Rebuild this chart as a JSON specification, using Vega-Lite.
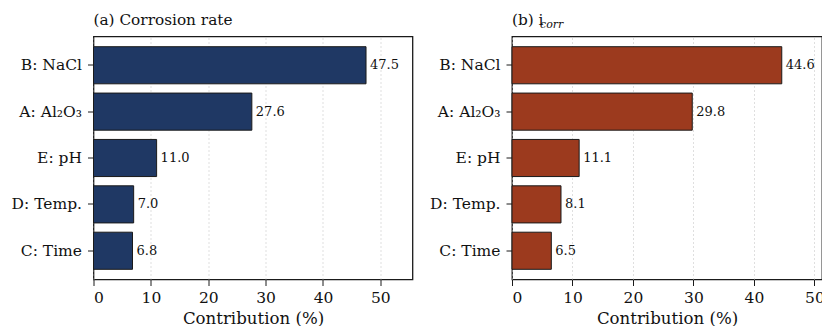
{
  "$schema": "https://vega.github.io/schema/vega-lite/v6.json",
  "padding": {"left": 9.5, "top": 12.5, "right": 0, "bottom": 0},
  "background": "white",
  "datasets": {
    "a": [
      {"factor": "B: NaCl", "contribution": 47.5},
      {"factor": "A: Al₂O₃", "contribution": 27.6},
      {"factor": "E: pH", "contribution": 11.0},
      {"factor": "D: Temp.", "contribution": 7.0},
      {"factor": "C: Time", "contribution": 6.8}
    ],
    "b": [
      {"factor": "B: NaCl", "contribution": 44.6},
      {"factor": "A: Al₂O₃", "contribution": 29.8},
      {"factor": "E: pH", "contribution": 11.1},
      {"factor": "D: Temp.", "contribution": 8.1},
      {"factor": "C: Time", "contribution": 6.5}
    ]
  },
  "spacing": 14.5,
  "hconcat": [
    {
      "width": 319,
      "height": 243,
      "data": {"name": "a"},
      "title": {"text": "(a) Corrosion rate", "subtitle": "\u200b"},
      "encoding": {
        "y": {"field": "factor", "type": "nominal", "sort": ["B: NaCl", "A: Al₂O₃", "E: pH", "D: Temp.", "C: Time"], "scale": {"paddingInner": 0.2, "paddingOuter": 0.22}, "axis": {"title": null}},
        "x": {"field": "contribution", "type": "quantitative", "scale": {"domain": [0, 55.6], "nice": false}, "axis": {"title": "Contribution (%)", "values": [0, 10, 20, 30, 40, 50]}}
      },
      "layer": [
        {"mark": {"type": "bar", "color": "#1f3864", "stroke": "#1a1a1a", "strokeWidth": 1}},
        {"mark": {"type": "text", "align": "left", "baseline": "middle", "dx": 4, "font": "DejaVu Serif", "fontSize": 13, "color": "#111111"}, "encoding": {"text": {"field": "contribution", "type": "quantitative", "format": ".1f"}}}
      ]
    },
    {
      "width": 310,
      "height": 243,
      "data": {"name": "b"},
      "title": {"text": "(b) i", "subtitle": "\u200b\u00a0\u00a0\u00a0\u00a0\u00a0\u00a0\u00a0\u00a0corr"},
      "encoding": {
        "y": {"field": "factor", "type": "nominal", "sort": ["B: NaCl", "A: Al₂O₃", "E: pH", "D: Temp.", "C: Time"], "scale": {"paddingInner": 0.2, "paddingOuter": 0.22}, "axis": {"title": null}},
        "x": {"field": "contribution", "type": "quantitative", "scale": {"domain": [0, 51.25], "nice": false}, "axis": {"title": "Contribution (%)", "values": [0, 10, 20, 30, 40, 50]}}
      },
      "layer": [
        {"mark": {"type": "bar", "color": "#9c3a1e", "stroke": "#1a1a1a", "strokeWidth": 1}},
        {"mark": {"type": "text", "align": "left", "baseline": "middle", "dx": 4, "font": "DejaVu Serif", "fontSize": 13, "color": "#111111"}, "encoding": {"text": {"field": "contribution", "type": "quantitative", "format": ".1f"}}}
      ]
    }
  ],
  "config": {
    "view": {"stroke": "#1a1a1a", "strokeWidth": 1.3},
    "title": {"anchor": "start", "frame": "group", "font": "DejaVu Serif", "fontSize": 15.3, "fontWeight": "normal", "color": "#111111", "offset": 7, "subtitleFont": "DejaVu Serif", "subtitleFontStyle": "italic", "subtitleFontSize": 11, "subtitleColor": "#111111", "subtitlePadding": -10},
    "axis": {"labelFont": "DejaVu Serif", "labelFontSize": 15.5, "labelColor": "#111111", "titleFont": "DejaVu Serif", "titleFontSize": 16.6, "titleFontWeight": "normal", "titleColor": "#111111", "tickColor": "#1a1a1a", "tickSize": 6, "tickWidth": 1, "domain": false},
    "axisX": {"grid": true, "gridColor": "#bbbbbb", "gridOpacity": 0.6, "gridDash": [2, 2], "gridWidth": 0.8, "zindex": 1, "labelPadding": 5, "titlePadding": 4},
    "axisY": {"grid": false, "labelPadding": 6}
  }
}
